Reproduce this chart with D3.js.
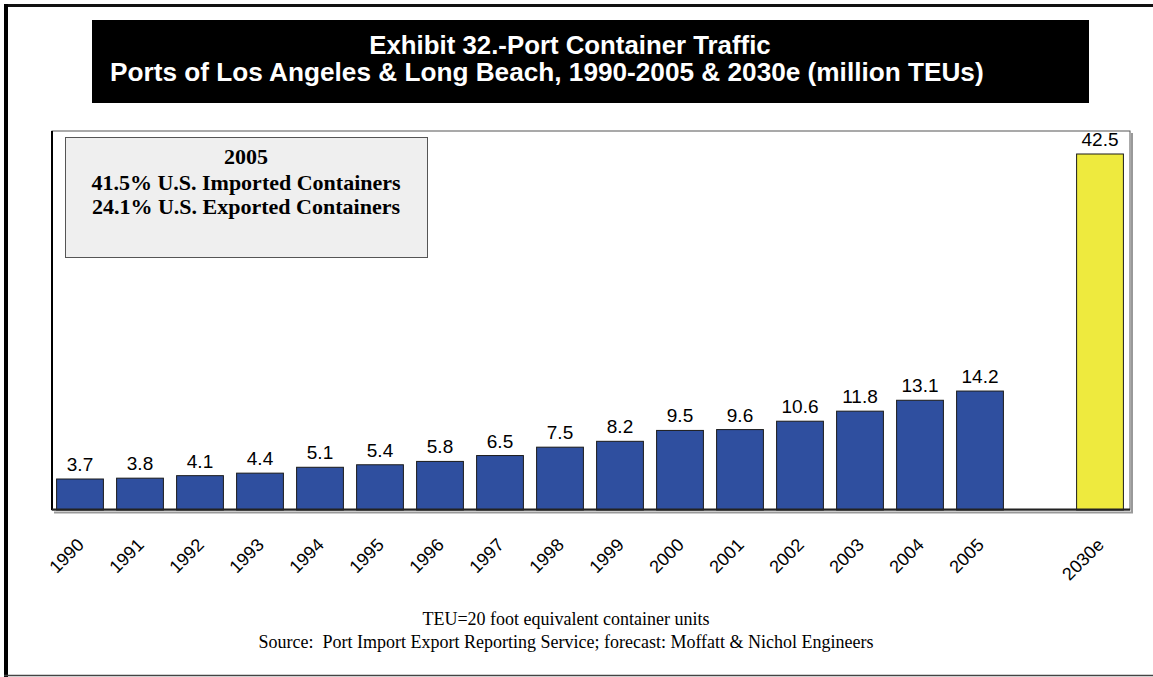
<!DOCTYPE html>
<html>
<head>
<meta charset="utf-8">
<script src="https://cdn.jsdelivr.net/npm/d3@7"></script>
<style>
  html, body { margin: 0; padding: 0; background: #fff; }
  svg { display: block; }
</style>
</head>
<body>
<svg id="chart" width="1153" height="677"></svg>
<script>
// Port container traffic, Los Angeles & Long Beach (million TEUs)
const years = ["1990","1991","1992","1993","1994","1995","1996","1997",
               "1998","1999","2000","2001","2002","2003","2004","2005"];
const teus  = [3.7, 3.8, 4.1, 4.4, 5.1, 5.4, 5.8, 6.5,
               7.5, 8.2, 9.5, 9.6, 10.6, 11.8, 13.1, 14.2];
const forecastLabel = "2030e";
const forecastValue = 42.5;

const titleLines = [
  "Exhibit 32.-Port Container Traffic",
  "Ports of Los Angeles & Long Beach, 1990-2005 & 2030e (million TEUs)"
];
const noteLines = [
  "2005",
  "41.5% U.S. Imported Containers",
  "24.1% U.S. Exported Containers"
];
const footerLines = [
  "TEU=20 foot equivalent container units",
  "Source:  Port Import Export Reporting Service; forecast: Moffatt & Nichol Engineers"
];

const spacer = "gap";
const bars = years.map((y, i) => ({ cat: y, value: teus[i], forecast: false }))
  .concat([{ cat: forecastLabel, value: forecastValue, forecast: true }]);
const slots = years.concat([spacer, forecastLabel]);

const sans = "Liberation Sans, Arial, sans-serif";
const serif = "Liberation Serif, Times New Roman, serif";

const svg = d3.select("#chart");

// outer page frame
svg.append("rect").attr("x", 4).attr("y", 4).attr("width", 1149).attr("height", 3).attr("fill", "#111");
svg.append("rect").attr("x", 4).attr("y", 4).attr("width", 4).attr("height", 673).attr("fill", "#000");
svg.append("line").attr("x1", 4).attr("x2", 1153).attr("y1", 675.5).attr("y2", 675.5)
  .attr("stroke", "#444").attr("stroke-width", 1.5);

// title block
svg.append("rect").attr("x", 92).attr("y", 20).attr("width", 997).attr("height", 83).attr("fill", "#000");
svg.append("text").attr("x", 570).attr("y", 54).attr("text-anchor", "middle")
  .attr("font-family", sans).attr("font-weight", "bold")
  .attr("font-size", 25.8).attr("fill", "#fff").text(titleLines[0]);
svg.append("text").attr("x", 110).attr("y", 81).attr("text-anchor", "start")
  .attr("font-family", sans).attr("font-weight", "bold")
  .attr("font-size", 26.2).attr("fill", "#fff").text(titleLines[1]);

// plot area
const plot = { left: 52, top: 131, right: 1130, bottom: 510 };

const x = d3.scaleBand().domain(slots).range([50, 1130]).paddingInner(0.22).paddingOuter(0.11);
const y = d3.scaleLinear().domain([0, 45]).range([plot.bottom, plot.bottom - 45 * (356 / 42.5)]);

// frame with grey drop shadow
svg.append("path")
  .attr("d", `M${plot.right + 2},${plot.top + 2} V${plot.bottom + 2.5} H${plot.left + 2}`)
  .attr("fill", "none").attr("stroke", "#999").attr("stroke-width", 2);
svg.append("rect").attr("x", plot.left).attr("y", plot.top)
  .attr("width", plot.right - plot.left).attr("height", plot.bottom - plot.top)
  .attr("fill", "#fff").attr("stroke", "#555").attr("stroke-width", 1);
svg.append("line").attr("x1", plot.left).attr("x2", plot.left)
  .attr("y1", plot.top).attr("y2", plot.bottom)
  .attr("stroke", "#000").attr("stroke-width", 2);

// annotation box
svg.append("rect").attr("x", 65.5).attr("y", 137.5).attr("width", 362).attr("height", 120)
  .attr("fill", "#efefef").attr("stroke", "#555").attr("stroke-width", 1);
const noteY = [164, 190, 214];
svg.append("g").selectAll("text").data(noteLines).join("text")
  .attr("x", 246).attr("y", (d, i) => noteY[i]).attr("text-anchor", "middle")
  .attr("font-family", serif).attr("font-weight", "bold")
  .attr("font-size", 22).attr("fill", "#000").text(d => d);

// bars
svg.append("g").selectAll("rect").data(bars).join("rect")
  .attr("x", d => x(d.cat))
  .attr("y", d => y(d.value))
  .attr("width", x.bandwidth())
  .attr("height", d => y(0) - y(d.value))
  .attr("fill", d => d.forecast ? "#eeea3e" : "#2f4f9f")
  .attr("stroke", "#1a1a1a").attr("stroke-width", 1);

// baseline
svg.append("line").attr("x1", plot.left).attr("x2", plot.right)
  .attr("y1", plot.bottom - 0.5).attr("y2", plot.bottom - 0.5)
  .attr("stroke", "#222").attr("stroke-width", 2);

// value labels
svg.append("g").selectAll("text").data(bars).join("text")
  .attr("x", d => x(d.cat) + x.bandwidth() / 2)
  .attr("y", d => y(d.value) - 8)
  .attr("text-anchor", "middle")
  .attr("font-family", sans)
  .attr("font-size", 19).attr("fill", "#000")
  .text(d => d.value.toFixed(1));

// category axis with slanted labels
const xAxis = d3.axisBottom(x).tickSize(0).tickFormat(d => d === spacer ? "" : d);
const axisG = svg.append("g").attr("transform", `translate(0,${plot.bottom})`).call(xAxis);
axisG.select(".domain").remove();
axisG.selectAll("text")
  .attr("font-family", sans)
  .attr("font-size", 18).attr("fill", "#000")
  .attr("text-anchor", "end")
  .attr("dy", null).attr("y", null)
  .attr("transform", "translate(5,36) rotate(-45)");

// footer notes
const footY = [625, 648];
svg.append("g").selectAll("text").data(footerLines).join("text")
  .attr("x", 566).attr("y", (d, i) => footY[i]).attr("text-anchor", "middle")
  .attr("font-family", serif)
  .attr("font-size", 18).attr("fill", "#000")
  .attr("xml:space", "preserve").style("white-space", "pre")
  .text(d => d);
</script>
</body>
</html>
